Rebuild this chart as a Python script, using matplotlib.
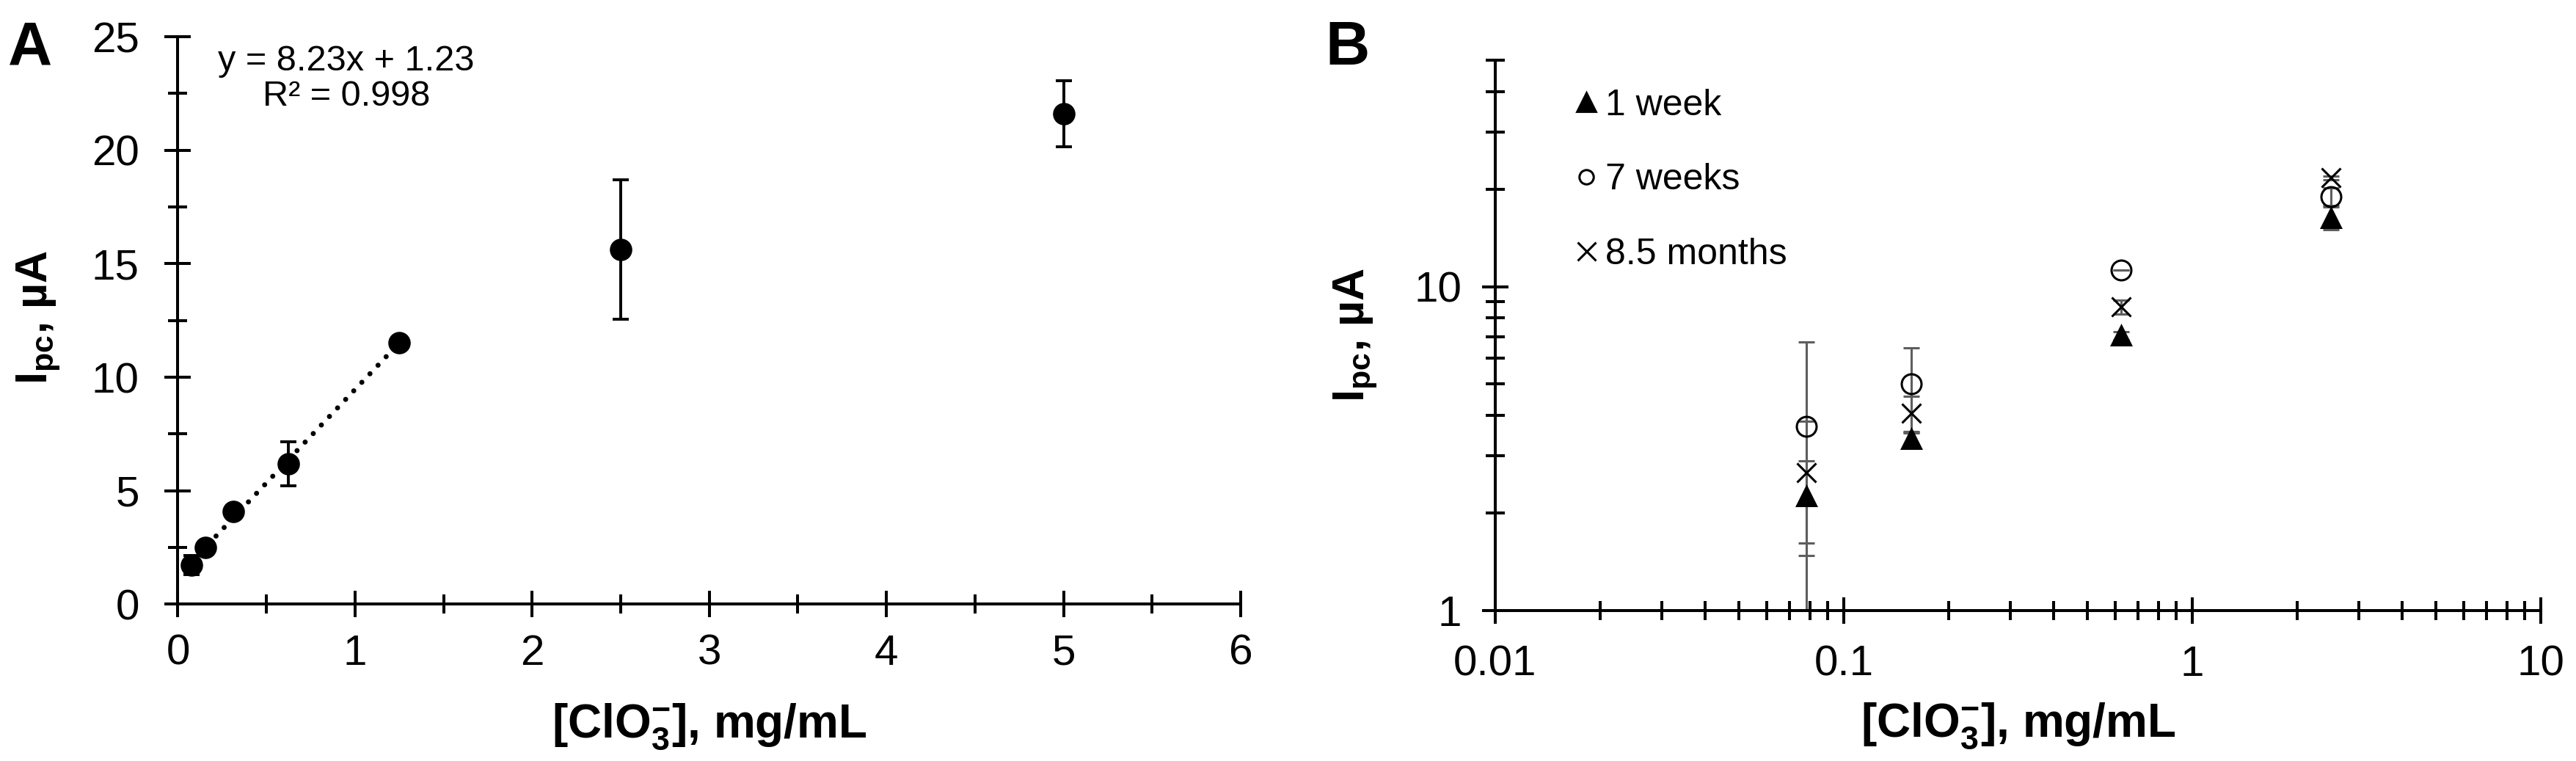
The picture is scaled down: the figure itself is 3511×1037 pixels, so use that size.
import numpy as np
import matplotlib.pyplot as plt
from matplotlib.lines import Line2D
from matplotlib.ticker import MultipleLocator, LogLocator, NullFormatter, FixedLocator, FixedFormatter

plt.rcParams['font.family'] = ['Liberation Sans', 'DejaVu Sans']
plt.rcParams['mathtext.default'] = 'regular'

# panel A: calibration curve
concA = [0.078, 0.156, 0.3125, 0.625, 1.25, 2.5, 5.0]
ipcA = [1.72, 2.51, 4.08, 6.20, 11.52, 15.62, 21.60]
errA = [0.43, 0.10, 0.10, 0.97, 0.10, 3.08, 1.46]
n_lin = 5            # points used for the linear fit
slope, intercept = 8.23, 1.23

# panel B: stability over time
concB = [0.078, 0.156, 0.625, 2.5]
week1 = [2.25, 3.38, 7.06, 16.3]
week1_err = [0.64, 0.15, 0.20, 1.30]
weeks7 = [3.70, 5.02, 11.24, 19.0]
weeks7_err = [3.06, 1.46, 0.0, 1.20]
months85 = [2.66, 4.07, 8.66, 21.7]
months85_err = [1.18, 0.52, 0.43, 0.30]

W, H = 3512, 1037
DPI = 200
fig = plt.figure(figsize=(W / DPI, H / DPI), dpi=DPI)

axA = fig.add_axes([242.5 / W, 1 - 823.3 / H, (1691 - 242.5) / W, (823.3 - 50.1) / H])
axB = fig.add_axes([2038 / W, 1 - 831.7 / H, (3463 - 2038) / W, (831.7 - 82.3) / H])

LW = 1.45
GREY = '#5e5e5e'
TICKFS = 21
XLABFS = 23
YLABFS = 22


def style_axes(ax):
    for s in ['top', 'right']:
        ax.spines[s].set_visible(False)
    for s in ['left', 'bottom']:
        ax.spines[s].set_linewidth(LW)
    ax.tick_params(which='major', direction='inout', length=13, width=LW, labelsize=TICKFS)
    ax.tick_params(which='minor', direction='inout', length=9.7, width=LW)


'''Panel A'''
xfit = np.array([concA[0], concA[n_lin - 1]])
axA.plot(xfit, slope * xfit + intercept, color='black', lw=2.5,
         linestyle=(0, (0.01, 2.3)), dash_capstyle='round', zorder=2)
axA.errorbar(concA, ipcA, yerr=errA, fmt='o', color='black', ms=10,
             elinewidth=1.4, capsize=4, capthick=1.4, zorder=3)
axA.set_xlim(0, 6)
axA.set_ylim(0, 25)
axA.xaxis.set_major_locator(MultipleLocator(1))
axA.xaxis.set_minor_locator(MultipleLocator(0.5))
axA.yaxis.set_major_locator(MultipleLocator(5))
axA.yaxis.set_minor_locator(MultipleLocator(2.5))
style_axes(axA)
axA.tick_params(axis='x', which='major', pad=8)
axA.tick_params(axis='y', which='major', pad=12.5)
axA.set_xlabel('[ClO$_3^{-}$], mg/mL', fontsize=XLABFS, fontweight='bold')
axA.set_ylabel('I$_{pc}$, µA', fontsize=YLABFS, fontweight='bold')
axA.xaxis.set_label_coords(0.5, -0.172)
axA.yaxis.set_label_coords(-0.109, 0.505)
axA.text(0.95, 23.15, 'y = 8.23x + 1.23\nR² = 0.998', fontsize=17.5,
         ha='center', va='center', linespacing=1.1)

'''Panel B'''
axB.set_xscale('log')
axB.set_yscale('log')
series = [(week1, week1_err, '^', 'black', '1 week'),
          (weeks7, weeks7_err, 'o', 'none', '7 weeks'),
          (months85, months85_err, 'x', 'black', '8.5 months')]
for vals, errs, mk, fc, lab in series:
    axB.errorbar(concB, vals, yerr=errs, fmt='none', ecolor=GREY,
                 elinewidth=1.1, capsize=4, capthick=1.1, zorder=2)
    axB.plot(concB, vals, linestyle='none', marker=mk, ms=9.7,
             mfc=fc, mec='black', mew=1.1, zorder=3)
axB.set_xlim(0.01, 10)
axB.set_ylim(1, 50)
axB.xaxis.set_major_locator(FixedLocator([0.01, 0.1, 1, 10]))
axB.xaxis.set_major_formatter(FixedFormatter(['0.01', '0.1', '1', '10']))
axB.xaxis.set_minor_locator(LogLocator(base=10, subs=np.arange(2, 10)))
axB.yaxis.set_major_locator(FixedLocator([1, 10]))
axB.yaxis.set_major_formatter(FixedFormatter(['1', '10']))
axB.yaxis.set_minor_locator(LogLocator(base=10, subs=np.arange(2, 10)))
axB.xaxis.set_minor_formatter(NullFormatter())
axB.yaxis.set_minor_formatter(NullFormatter())
style_axes(axB)
axB.tick_params(axis='x', which='major', pad=10.5)
axB.tick_params(axis='y', which='major', pad=10)
axB.set_xlabel('[ClO$_3^{-}$], mg/mL', fontsize=XLABFS, fontweight='bold')
axB.set_ylabel('I$_{pc}$, µA', fontsize=YLABFS, fontweight='bold')
axB.xaxis.set_label_coords(0.5, -0.166)
axB.yaxis.set_label_coords(-0.111, 0.5)

handles = [Line2D([], [], linestyle='none', marker='^', ms=9.5, mfc='black', mec='black'),
           Line2D([], [], linestyle='none', marker='o', ms=7, mfc='none', mec='black', mew=1.1),
           Line2D([], [], linestyle='none', marker='x', ms=9, mec='black', mew=1.1)]
axB.legend(handles, [s[4] for s in series], loc='upper left', bbox_to_anchor=(0.0763, 0.949),
           frameon=False, fontsize=18, handlelength=0.6, handletextpad=0.23,
           labelspacing=1.11, borderaxespad=0, borderpad=0)

fig.text(11 / W, 1 - 88 / H, 'A', fontsize=30, fontweight='bold', va='baseline')
fig.text(1806 / W, 1 - 88 / H, 'B', fontsize=30, fontweight='bold', va='baseline')

fig.savefig('out.png', dpi=DPI)
